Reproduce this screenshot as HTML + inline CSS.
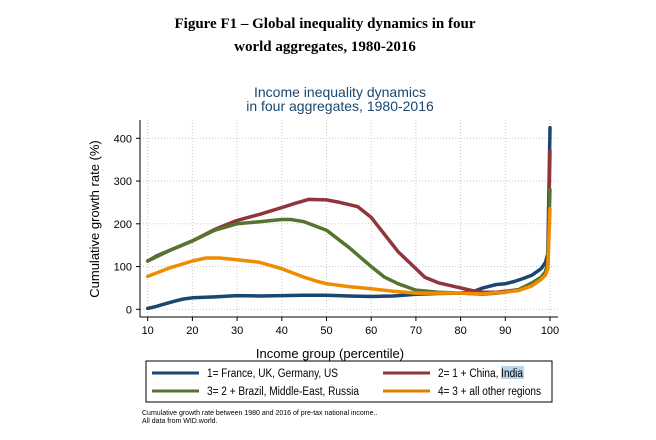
<!DOCTYPE html>
<html><head><meta charset="utf-8"><style>
body{margin:0;background:#fff;}
svg text{font-family:"Liberation Sans",Arial,sans-serif;}
</style></head><body>
<svg width="656" height="435" viewBox="0 0 656 435">
<text x="325" y="28" text-anchor="middle" font-size="15" font-weight="bold" style="font-family:'Liberation Serif',serif">Figure F1 – Global inequality dynamics in four</text>
<text x="325" y="51" text-anchor="middle" font-size="15" font-weight="bold" style="font-family:'Liberation Serif',serif">world aggregates, 1980-2016</text>
<text x="340" y="97" text-anchor="middle" font-size="14" fill="#1a476f">Income inequality dynamics</text>
<text x="340" y="111" text-anchor="middle" font-size="14" fill="#1a476f">in four aggregates, 1980-2016</text>
<g id="grid"></g>
<g id="axes"></g>
<g id="series"></g>
<text x="330" y="358" text-anchor="middle" font-size="13">Income group (percentile)</text>
<text transform="translate(99,219) rotate(-90)" text-anchor="middle" font-size="13">Cumulative growth rate (%)</text>
<g>
<rect x="146" y="361" width="406" height="41" fill="#fff" stroke="#000" stroke-width="1"/>
<g><line x1="152" y1="373" x2="199" y2="373" stroke="#1a476f" stroke-width="3"/><text x="207" y="377" font-size="11.5" textLength="131" lengthAdjust="spacingAndGlyphs">1= France, UK, Germany, US</text></g>
<g><line x1="383" y1="373" x2="430" y2="373" stroke="#90353b" stroke-width="3"/><rect x="501" y="366" width="23" height="13" fill="#b8d4ea"/><text x="438" y="377" font-size="11.5" textLength="85" lengthAdjust="spacingAndGlyphs">2= 1 + China, India</text></g>
<g><line x1="152" y1="391" x2="199" y2="391" stroke="#55752f" stroke-width="3"/><text x="207" y="395" font-size="11.5" textLength="152" lengthAdjust="spacingAndGlyphs">3= 2 + Brazil, Middle-East, Russia</text></g>
<g><line x1="383" y1="391" x2="430" y2="391" stroke="#e37e00" stroke-width="3"/><text x="438" y="395" font-size="11.5" textLength="103" lengthAdjust="spacingAndGlyphs">4= 3 + all other regions</text></g>
</g>
<text x="142" y="415" font-size="7">Cumulative growth rate between 1980 and 2016 of pre-tax national income..</text>
<text x="142" y="423" font-size="7">All data from WID.world.</text>
</svg>
<script>
const xTicks=[10,20,30,40,50,60,70,80,90,100];
const yTicks=[0,100,200,300,400];
const blueX=[10,12,14,16,18,20,25,30,35,40,45,50,55,60,65,70,75,80,83,85,88,90,92,94,96,98,99,99.5,100];
const blueY=[2,7,13,19,24,27,29,32,31,32,33,33,31,30,31,35,37,38,42,50,58,60,65,72,80,95,110,130,425];
const redX=[10,12,15,20,25,30,35,40,43,46,50,53,57,60,63,66,69,72,75,80,83,85,88,90,93,96,98,99,99.5,100];
const redY=[113,125,138,160,187,208,222,238,248,257,256,250,240,215,175,135,105,75,62,50,43,40,40,42,46,60,73,85,100,370];
const greenX=[10,15,20,25,30,35,40,42,45,50,55,60,63,66,70,75,80,85,88,90,93,96,98,99,99.5,100];
const greenY=[113,138,160,185,200,205,210,210,205,185,145,100,75,60,45,40,38,35,38,40,46,62,75,88,110,280];
const orangeX=[10,15,20,23,26,30,35,40,45,48,50,55,60,65,70,80,85,88,90,93,96,98,99,99.5,100];
const orangeY=[77,97,113,120,120,116,110,95,75,65,60,53,48,42,38,38,36,39,40,44,55,70,80,95,235];
const NS="http://www.w3.org/2000/svg";
const xS=v=>147.7+(v-10)*(402.3/90);
const yS=v=>309.3-v*0.4275;
const grid=document.getElementById('grid'),axes=document.getElementById('axes'),ser=document.getElementById('series');
function mk(tag,attrs,parent){const e=document.createElementNS(NS,tag);for(const k in attrs)e.setAttribute(k,attrs[k]);parent.appendChild(e);return e;}
xTicks.forEach(t=>{
  const g=mk('line',{x1:xS(t),x2:xS(t),y1:120,y2:317,stroke:'#c8c8c8','stroke-dasharray':'1,2','stroke-width':1},grid);
  
  
  const tk=mk('line',{x1:xS(t),x2:xS(t),y1:317,y2:321,stroke:'#000'},axes);
  
  
  const tx=mk('text',{x:xS(t),y:334,'text-anchor':'middle','font-size':11},axes);
  tx.textContent=t;
  
  
});
yTicks.forEach(t=>{
  const g=mk('line',{x1:140,x2:558,y1:yS(t),y2:yS(t),stroke:'#c8c8c8','stroke-dasharray':'1,2','stroke-width':1},grid);
  
  
  const tk=mk('line',{x1:136,x2:140,y1:yS(t),y2:yS(t),stroke:'#000'},axes);
  
  
  const tx=mk('text',{x:132,y:yS(t)+4,'text-anchor':'end','font-size':11},axes);
  tx.textContent=t;
  
  
});
const ya=mk('line',{x1:140,x2:140,y1:120,y2:317,stroke:'#000'},axes);


const xa=mk('line',{x1:140,x2:558,y1:317,y2:317,stroke:'#000'},axes);


function line(xs,ys,color,name){
  const d=xs.map((x,i)=>(i?'L':'M')+xS(x).toFixed(1)+','+yS(ys[i]).toFixed(1)).join('');
  const p=mk('path',{d:d,fill:'none',stroke:color,'stroke-width':3.5,'stroke-linejoin':'round','stroke-linecap':'round'},ser);
  
  
}
line(blueX,blueY,'#1a476f','line-aggregate-1');
line(redX,redY,'#90353b','line-aggregate-2');
line(greenX,greenY,'#55752f','line-aggregate-3');
line(orangeX,orangeY,'#f08c00','line-aggregate-4');
</script>
</body></html>
